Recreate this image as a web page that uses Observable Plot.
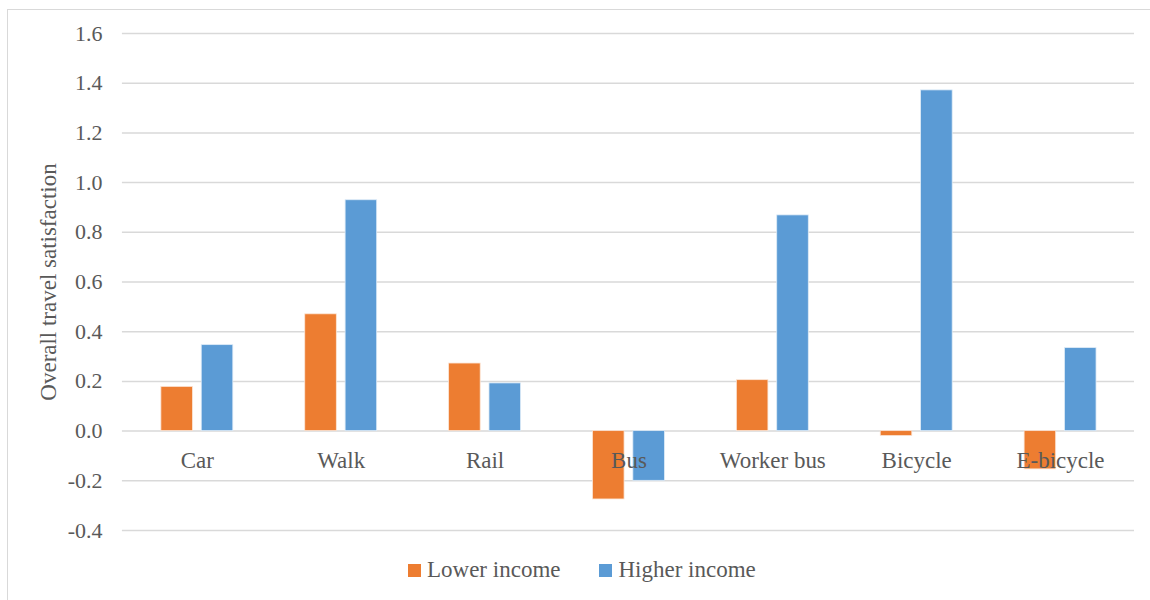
<!DOCTYPE html>
<html>
<head>
<meta charset="utf-8">
<script src="https://cdn.jsdelivr.net/npm/d3@7"></script>
<script src="https://cdn.jsdelivr.net/npm/@observablehq/plot@0.6"></script>
<style>
  html, body { margin: 0; padding: 0; background: #fff; overflow: hidden; width: 1150px; height: 600px; }
  #frame { position: absolute; left: 7px; top: 9px; width: 1200px; height: 700px; border: 1px solid #d9d9d9; box-sizing: border-box; }
  #chart { position: absolute; left: 8px; top: 10px; }
  #legend { position: absolute; left: 408px; top: 557px; font-family: "Liberation Serif", "Times New Roman", serif; font-size: 23px; color: #595959; display: flex; align-items: center; white-space: nowrap; }
  .item { display: flex; align-items: center; margin-right: 39px; }
  .sw { width: 13px; height: 13px; margin-right: 6px; }
</style>
</head>
<body>
<div id="frame"></div>
<div id="chart"></div>
<div id="legend"></div>
<script>
const categories = ["Car", "Walk", "Rail", "Bus", "Worker bus", "Bicycle", "E-bicycle"];
const lowerIncome = [0.178, 0.470, 0.272, -0.275, 0.205, -0.020, -0.154];
const higherIncome = [0.346, 0.929, 0.192, -0.200, 0.868, 1.371, 0.334];
const seriesNames = ["Lower income", "Higher income"];
const seriesColors = ["#ED7D31", "#5B9BD5"];
const yTicks = [-0.4, -0.2, 0.0, 0.2, 0.4, 0.6, 0.8, 1.0, 1.2, 1.4, 1.6];
const yLabel = "Overall travel satisfaction";

const lowerData = categories.map((c, i) => ({category: c, value: lowerIncome[i]}));
const higherData = categories.map((c, i) => ({category: c, value: higherIncome[i]}));

const plot = Plot.plot({
  width: 1143,
  height: 540,
  marginLeft: 114,
  marginTop: 23,
  marginBottom: 19.5,
  marginRight: 16,
  style: {fontFamily: "Liberation Serif, Times New Roman, serif", fontSize: "22px", color: "#595959", background: "transparent"},
  x: {domain: categories, axis: null, paddingInner: 0.5, paddingOuter: 0.25},
  y: {domain: [-0.4, 1.6]},
  marks: [
    Plot.ruleY(yTicks, {stroke: "#d9d9d9", strokeWidth: 1.5}),
    Plot.axisY({ticks: yTicks, tickFormat: d => d.toFixed(1), tickSize: 0, tickPadding: 20, fontSize: 22, label: null}),
    Plot.axisY({ticks: [], label: yLabel, labelAnchor: "center", labelOffset: 83, labelArrow: "none", fontSize: 23}),
    Plot.barY(lowerData, {x: "category", y: "value", fill: seriesColors[0], insetRight: 40.4, stroke: "#fbe5d6", strokeWidth: 0.8}),
    Plot.barY(higherData, {x: "category", y: "value", fill: seriesColors[1], insetLeft: 40.4, stroke: "#deebf7", strokeWidth: 0.8}),
    Plot.text(categories, {x: d => d, y: d => 0, text: d => d, dy: 30, fill: "#595959", fontSize: 23})
  ]
});
document.getElementById("chart").appendChild(plot);

const legend = document.getElementById("legend");
seriesNames.forEach((name, i) => {
  const item = document.createElement("div");
  item.className = "item";
  const sw = document.createElement("div");
  sw.className = "sw";
  sw.style.background = seriesColors[i];
  const lab = document.createElement("span");
  lab.textContent = name;
  item.appendChild(sw);
  item.appendChild(lab);
  legend.appendChild(item);
});
</script>
</body>
</html>
